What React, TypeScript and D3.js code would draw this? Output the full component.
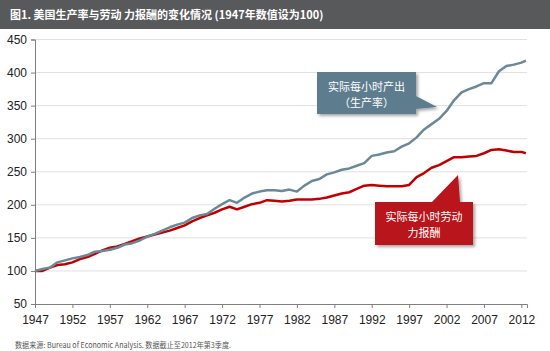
import React, { useEffect, useRef } from 'react';
import * as d3 from 'd3';

// yearly readings, last point is 2012 Q3
const years = [...d3.range(1947, 2013), 2012.6];

const productivity = [
  100, 103, 105, 113, 116, 119, 121, 124, 129, 130,
  132, 135, 140, 142, 146, 152, 156, 161, 166, 170,
  173, 180, 184, 186, 194, 201, 207, 203, 211, 217,
  220, 222, 222, 221, 223, 220, 229, 236, 239, 246,
  249, 253, 255, 259, 263, 274, 276, 279, 281, 288,
  293, 302, 314, 322, 330, 342, 358, 370, 375, 379,
  384, 384, 402, 410, 412, 415, 418
];

const compensation = [
  100, 100, 105, 109, 110, 113, 118, 121, 126, 131,
  135, 137, 141, 145, 149, 152, 155, 158, 161, 165,
  169, 175, 180, 184, 188, 193, 197, 193, 197, 201,
  203, 207, 206, 205, 206, 208, 208, 208, 209, 211,
  214, 217, 219, 224, 229, 230, 229, 228, 228, 228,
  230, 242, 248, 256, 260, 266, 272, 272, 273, 274,
  278, 283, 284, 282, 280, 280, 278
];

const yTicks = [50, 100, 150, 200, 250, 300, 350, 400, 450];
const xTicks = d3.range(1947, 2013, 5);

const title = '图1. 美国生产率与劳动 力报酬的变化情况 (1947年数值设为100)';
const source = '数据来源: Bureau of Economic Analysis. 数据截止至2012年第3季度.';
const prodLabel = ['实际每小时产出', '（生产率）'];
const compLabel = ['实际每小时劳动', '力报酬'];

const FONT = "'Liberation Sans', Arial, 'Noto Sans CJK SC', sans-serif";
const CJK = "'Noto Sans CJK SC', 'Liberation Sans', sans-serif";

export default function App() {
  const ref = useRef<SVGSVGElement>(null);

  useEffect(() => {
    const svg = d3.select(ref.current);
    svg.selectAll('*').remove();

    const x = d3.scaleLinear().domain([1947, 2012.75]).range([35, 527]);
    const y = d3.scaleLinear().domain([50, 450]).range([304, 39.5]);

    const defs = svg.append('defs');
    const f = defs.append('filter').attr('id', 'shadow')
      .attr('x', '-20%').attr('y', '-20%').attr('width', '150%').attr('height', '150%');
    f.append('feDropShadow').attr('dx', 2).attr('dy', 2)
      .attr('stdDeviation', 1.5).attr('flood-color', '#000').attr('flood-opacity', 0.35);

    // title bar
    svg.append('rect').attr('x', 0).attr('y', 0).attr('width', 550).attr('height', 29)
      .attr('fill', '#58595b');
    svg.append('text').attr('x', 10).attr('y', 19)
      .attr('fill', '#fff').attr('font-size', 11).attr('font-weight', 'bold')
      .attr('font-family', CJK).text(title);

    // grid
    svg.append('g').selectAll('line')
      .data(yTicks.filter(d => d > 50))
      .join('line')
      .attr('x1', x(1947)).attr('x2', x(2012.75))
      .attr('y1', d => y(d)).attr('y2', d => y(d))
      .attr('stroke', '#e0e0e0').attr('stroke-width', 1);

    // axes
    const yAxis = svg.append('g')
      .attr('transform', `translate(${x(1947)},0)`)
      .call(d3.axisLeft(y).tickValues(yTicks).tickSize(4).tickPadding(4));
    const xAxis = svg.append('g')
      .attr('transform', `translate(0,${y(50)})`)
      .call(d3.axisBottom(x).tickValues(xTicks).tickFormat(d3.format('d')).tickSize(4).tickPadding(7));
    [yAxis, xAxis].forEach(a => {
      a.select('.domain').attr('stroke', '#7f7f7f');
      a.selectAll('.tick line').attr('stroke', '#7f7f7f');
      a.selectAll('text').attr('font-size', 12).attr('font-family', FONT).attr('fill', '#222');
    });

    // lines
    const line = (vals: number[]) => d3.line<number>()
      .x((_, i) => x(years[i]))
      .y(d => y(d))(vals);

    svg.append('path').attr('d', line(compensation))
      .attr('fill', 'none').attr('stroke', '#c00000').attr('stroke-width', 2.5)
      .attr('stroke-linejoin', 'round');
    svg.append('path').attr('d', line(productivity))
      .attr('fill', 'none').attr('stroke', '#6a8898').attr('stroke-width', 2.5)
      .attr('stroke-linejoin', 'round');

    // callout: productivity
    svg.append('path')
      .attr('d', 'M317,72 H416 V96 L437,107 L416,109 V114 H317 Z')
      .attr('fill', '#5d7d8e').attr('filter', 'url(#shadow)');
    svg.append('g').selectAll('text').data(prodLabel).join('text')
      .attr('x', 366.5).attr('y', (_, i) => 91 + i * 16)
      .attr('font-family', CJK).attr('font-size', 11).attr('fill', '#fff')
      .attr('text-anchor', 'middle').text(d => d);

    // callout: compensation
    svg.append('path')
      .attr('d', 'M375,202 H432 L458,175 L460,202 H473 V245 H375 Z')
      .attr('fill', '#b8121b').attr('filter', 'url(#shadow)');
    svg.append('g').selectAll('text').data(compLabel).join('text')
      .attr('x', 424).attr('y', (_, i) => 221 + i * 16)
      .attr('font-family', CJK).attr('font-size', 11).attr('fill', '#fff')
      .attr('text-anchor', 'middle').text(d => d);

    // source
    svg.append('text').attr('x', 15).attr('y', 348)
      .attr('font-size', 8).attr('fill', '#555').attr('font-family', CJK)
      .attr('textLength', 216).attr('lengthAdjust', 'spacingAndGlyphs')
      .text(source);
  }, []);

  return (
    <svg ref={ref} width={550} height={351}
      style={{ position: 'absolute', left: 0, top: 0, background: '#fff' }} />
  );
}
